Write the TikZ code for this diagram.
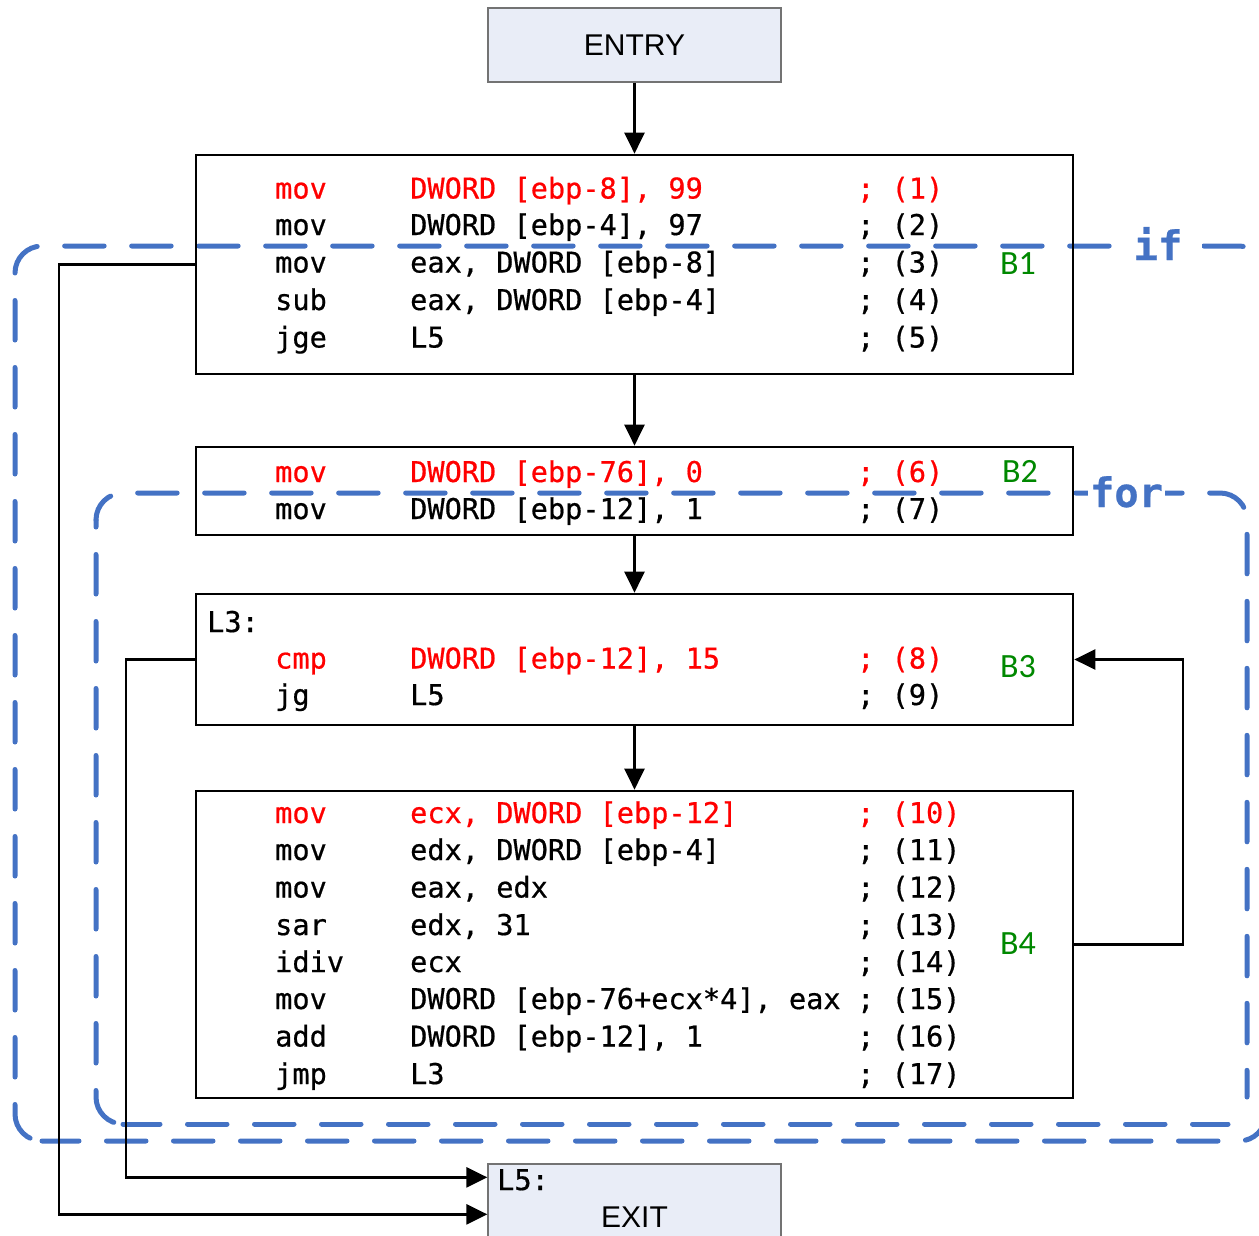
\documentclass[tikz,border=0pt]{standalone}
\usepackage{fontspec}
\setmainfont{Liberation Sans}
\newfontfamily\codefont{DejaVu Sans Mono}[FakeBold=0.6]
\newfontfamily\tagfont{Carlito}
\usetikzlibrary{arrows.meta,calc}

\definecolor{asmred}{RGB}{255,0,0}
\definecolor{tagGreen}{RGB}{0,136,0}
\definecolor{loopblue}{RGB}{68,114,196}
\definecolor{termfill}{RGB}{233,237,247}
\definecolor{termline}{RGB}{115,115,115}

% one assembly line: name, baseline y, colour, mnemonic, operands, comment
\newcommand\asmline[6]{%
  \node[asm,text=#3] (#1) at (275,#2)
    {\makebox[135pt][l]{#4}\makebox[447pt][l]{#5}#6};}

\tikzset{
  terminal/.style={draw=termline, line width=1.3pt, fill=termfill,
    minimum width=293pt, font=\fontsize{30pt}{34pt}\selectfont},
  block/.style={draw=black, line width=2.7pt, minimum width=877pt},
  asm/.style={anchor=base west, inner sep=0pt,
    font=\codefont\fontsize{28.6pt}{34pt}\selectfont},
  blocktag/.style={inner sep=0pt, text=tagGreen,
    font=\tagfont\fontsize{34pt}{40pt}\selectfont},
  loopline/.style={draw=loopblue, line width=5pt, line cap=round,
    dash pattern=on 39.5pt off 27.5pt, rounded corners=27pt},
  looptag/.style={anchor=base, fill=white, text=loopblue, inner ysep=3pt,
    font=\codefont\bfseries\fontsize{40.5pt}{44pt}\selectfont},
  flow/.style={draw=black, line width=2.5pt,
    -{Triangle[length=21pt,width=20pt]}},
}

\begin{document}
\begin{tikzpicture}[x=1pt,y=-1pt]
\useasboundingbox (0,0) rectangle (1259,1235);

% "if" region: top and right side, left side, bottom side
\draw[loopline, dash phase=2pt] (15,273) -- (15,246) -- (1266,246) -- (1266,1114);
\draw[loopline, dash phase=39.5pt] (15,273) -- (15,1141) -- (42,1141);
\draw[loopline, dash phase=2.5pt] (42,1141) -- (1266,1141) -- (1266,1100);
% "for" region: top and right side, left side, bottom side
\draw[loopline, dash phase=10pt] (96,520) -- (96,493) -- (1247,493) -- (1247,1097);
\draw[loopline, dash phase=32.5pt] (96,520) -- (96,1124) -- (123,1124);
\draw[loopline, dash phase=2.5pt] (123,1124) -- (1228,1124);
\node[looptag, inner xsep=20pt] (iftag) at (1158,260) {if};
\node[looptag, inner xsep=2pt] (fortag) at (1126.5,507) {for};

% entry / exit
\node[terminal, minimum height=74pt] (entry) at (634.5,45) {ENTRY};
\node[terminal, minimum height=106pt] (exit) at (634.5,1217) {EXIT};
\node[asm] (exitlabel) at (497,1190) {L5:};

% basic blocks
\node[block, minimum height=219pt] (b1) at (634.5,264.5) {};
\node[block, minimum height=88pt]  (b2) at (634.5,491) {};
\node[block, minimum height=131pt] (b3) at (634.5,659.5) {};
\node[block, minimum height=307pt] (b4) at (634.5,944.5) {};

\node[blocktag] (t1) at (1018,264) {B1};
\node[blocktag] (t2) at (1020,471) {B2};
\node[blocktag] (t3) at (1018,667) {B3};
\node[blocktag] (t4) at (1018,944) {B4};

% B1
\asmline{r1}{198.5}{asmred}{mov}{DWORD [ebp-8], 99}{; (1)}
\asmline{r2}{235}{black}{mov}{DWORD [ebp-4], 97}{; (2)}
\asmline{r3}{272.5}{black}{mov}{eax, DWORD [ebp-8]}{; (3)}
\asmline{r4}{310}{black}{sub}{eax, DWORD [ebp-4]}{; (4)}
\asmline{r5}{347.5}{black}{jge}{L5}{; (5)}
% B2
\asmline{r6}{482}{asmred}{mov}{DWORD [ebp-76], 0}{; (6)}
\asmline{r7}{519}{black}{mov}{DWORD [ebp-12], 1}{; (7)}
% B3
\node[asm] (l3) at (207,632) {L3:};
\asmline{r8}{668.5}{asmred}{cmp}{DWORD [ebp-12], 15}{; (8)}
\asmline{r9}{705}{black}{jg}{L5}{; (9)}
% B4
\asmline{r10}{823}{asmred}{mov}{ecx, DWORD [ebp-12]}{; (10)}
\asmline{r11}{860}{black}{mov}{edx, DWORD [ebp-4]}{; (11)}
\asmline{r12}{897.5}{black}{mov}{eax, edx}{; (12)}
\asmline{r13}{935}{black}{sar}{edx, 31}{; (13)}
\asmline{r14}{972}{black}{idiv}{ecx}{; (14)}
\asmline{r15}{1009}{black}{mov}{DWORD [ebp-76+ecx*4], eax}{; (15)}
\asmline{r16}{1046.5}{black}{add}{DWORD [ebp-12], 1}{; (16)}
\asmline{r17}{1084}{black}{jmp}{L3}{; (17)}

% control flow
\coordinate (ifrail) at (59,0);
\coordinate (forrail) at (126,0);
\coordinate (backrail) at (1183,0);
\coordinate (exitA) at ($(exit.north west)+(0,14)$);
\coordinate (exitB) at ($(exit.north west)+(0,51)$);

\draw[flow] (entry.south) -- (b1.north);
\draw[flow] (b1.south) -- (b2.north);
\draw[flow] (b2.south) -- (b3.north);
\draw[flow] (b3.south) -- (b4.north);
\draw[flow] (b4.east) -- (b4.east -| backrail) |- (b3.east);
\draw[flow] (b3.west) -- (b3.west -| forrail) |- (exitA);
\draw[flow] (b1.west) -- (b1.west -| ifrail) |- (exitB);
\end{tikzpicture}
\end{document}
